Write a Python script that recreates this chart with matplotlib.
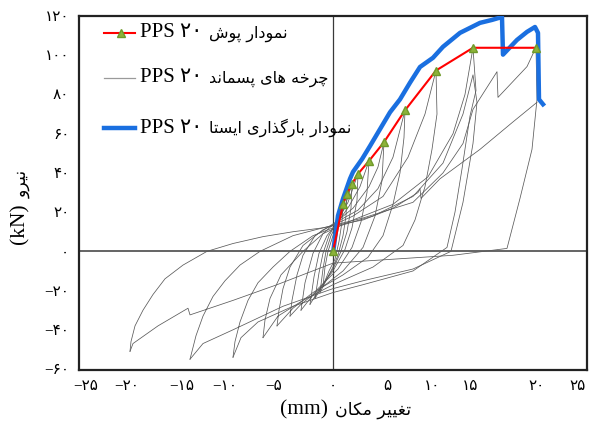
import matplotlib
matplotlib.use("Agg")
import matplotlib.pyplot as plt
from matplotlib.offsetbox import TextArea, HPacker, AnchoredOffsetbox

# push-over envelope (red line, green triangles)
push_x = [0, 1.0, 1.4, 1.9, 2.5, 3.6, 5.1, 7.2, 10.3, 14.0, 20.3]
push_y = [0, 24.3, 29.4, 34.4, 39.5, 46.1, 55.7, 71.9, 92.2, 103.8, 103.8]

# monotonic (static) loading curve, blue
static_x = [0, 0.5, 1.0, 1.7, 2.0, 2.9, 3.7, 4.7, 5.7, 6.7, 7.7, 8.7, 10.0, 11.0,
            12.7, 14.7, 15.9, 16.9, 17.0, 18.4, 19.4, 20.2, 20.5, 20.6, 21.0]
static_y = [-1, 18.2, 26.8, 37, 40.5, 47, 53.7, 62.3, 70.9, 77.5, 86, 94, 98.7, 104.3,
            111.4, 116.5, 118, 119.5, 100.3, 107.8, 111.9, 114.4, 111.4, 77.5, 75]

# hysteresis cycles as (x, y) points
cycle_01 = [(0, 0), (0.3, 12), (0.6, 19), (1.0, 24.3), (0.9, 15), (0.6, 5), (0.2, -4),
            (-0.4, -10), (-0.8, -15), (-1.0, -18)]
cycle_02 = [(-1.0, -18), (-0.8, -8), (-0.5, 0), (0, 8), (0.5, 15), (1.0, 22), (1.4, 29.4),
            (1.3, 18), (1.0, 8), (0.5, -2), (0, -8), (-0.6, -14), (-1.3, -21)]
cycle_03 = [(-1.3, -21), (-1.0, -9), (-0.7, 0), (-0.2, 8), (0.5, 15), (1.2, 23), (1.9, 34.4),
            (1.8, 22), (1.4, 10), (0.8, 0), (0, -9), (-0.9, -16), (-1.8, -24)]
cycle_04 = [(-1.8, -24), (-1.4, -11), (-1.0, -1), (-0.4, 8), (0.5, 16), (1.5, 25), (2.5, 39.5),
            (2.4, 26), (1.9, 12), (1.2, 1), (0, -10), (-1.2, -18), (-2.3, -27)]
cycle_05 = [(-2.3, -27), (-1.9, -13), (-1.4, -1), (-0.6, 8), (0.5, 15), (1.6, 23), (2.7, 33),
            (3.6, 46.1), (3.4, 30), (2.8, 15), (1.9, 2), (0.5, -9), (-1.5, -19), (-3.2, -30)]
cycle_06 = [(-3.2, -30), (-2.8, -16), (-2.0, -1), (-1.0, 9), (0.3, 15), (2.0, 22), (3.6, 33),
            (4.5, 43), (5.1, 55.7), (4.9, 36), (4.2, 18), (3.0, 2), (1.0, -10), (-1.5, -20),
            (-3.2, -27), (-4.3, -33)]
cycle_07 = [(-4.3, -33), (-4.1, -25), (-3.6, -12), (-3.0, -2), (-1.8, 8), (0, 14), (2.5, 21),
            (4.5, 32), (6.0, 48), (7.2, 71.9), (7.1, 58), (6.7, 40), (6.0, 24), (5.0, 8),
            (3.5, -3), (1.0, -12), (-2.0, -21), (-4.0, -29), (-5.6, -38)]
cycle_08 = [(-5.6, -38), (-5.4, -30), (-5.0, -19), (-4.3, -8), (-3.0, 3), (-1.0, 11),
            (2.0, 18), (5.0, 28), (7.5, 48), (9.2, 70), (10.3, 92.2), (10.4, 70), (9.9, 52),
            (9.2, 33), (8.2, 16), (7.0, 3), (4.0, -8), (0, -17), (-3.0, -25), (-5.5, -33),
            (-7.0, -44)]
cycle_09 = [(-7.0, -44), (-6.8, -35), (-6.3, -24), (-5.2, -12), (-3.0, 0), (-1.0, 9),
            (2.0, 16), (6.0, 24), (9.5, 38), (12.0, 60), (13.2, 80), (14.0, 103.8),
            (14.3, 82), (13.7, 69), (12.9, 42), (12.2, 20), (11.4, 2), (8.0, -10), (3.0, -17),
            (0, -21), (-4.0, -28), (-7.5, -36), (-9.2, -44), (-10.0, -54)]
cycle_10 = [(-10.0, -54), (-9.8, -46), (-9.3, -36), (-8.5, -25), (-7.5, -16), (-6.0, -8),
            (-4.3, 0), (-2.0, 8), (0, 12), (4.0, 18), (8.0, 28), (11.0, 45), (13.0, 70),
            (14.0, 90), (14.4, 76), (14.0, 55), (13.0, 25), (11.8, 0), (8.0, -9), (3.0, -15),
            (0, -19), (-5.0, -28), (-10.0, -40), (-13.0, -47), (-14.3, -55)]
cycle_11 = [(-14.3, -55), (-14.1, -51), (-13.7, -43), (-13.0, -33), (-12.0, -23),
            (-10.8, -15), (-9.3, -7), (-7.3, 0), (-4.0, 8), (-1.0, 12), (3.0, 17), (8.0, 25),
            (11.0, 40), (13.0, 55), (14.0, 72.4), (16.4, 91.6), (16.5, 78.5), (19.4, 94.2),
            (20.3, 104), (20.4, 77.5), (19.9, 52), (18.7, 27), (17.4, 1.5), (12.0, -2),
            (6.0, -4), (0, -6), (-5.6, -17), (-10.0, -25), (-14.3, -32.4), (-14.5, -29),
            (-17.5, -38), (-20.0, -47), (-20.3, -51)]
cycle_12 = [(-20.3, -51), (-20.2, -46), (-19.8, -38), (-19.0, -30), (-18.0, -22),
            (-16.8, -14), (-15.0, -7), (-12.6, 0), (-10.0, 4), (-7.0, 7.5), (-4.0, 10),
            (-1.0, 12), (3.0, 16), (6.0, 22), (8.5, 30), (8.7, 32), (8.8, 27), (10.7, 37),
            (14.7, 52), (18.0, 66), (20.4, 76)]
cycles = [cycle_01, cycle_02, cycle_03, cycle_04, cycle_05, cycle_06,
          cycle_07, cycle_08, cycle_09, cycle_10, cycle_11, cycle_12]

# text
legend_labels = ["نمودار پوش", "چرخه های پسماند", "نمودار بارگذاری ایستا"]
legend_suffix = "PPS ۲۰"
xlabel_fa = "تغییر مکان"
ylabel_fa = "نیرو"
x_ticks = [-25, -20, -15, -10, -5, 0, 5, 10, 15, 20, 25]
y_ticks = [-60, -40, -20, 0, 20, 40, 60, 80, 100, 120]

# Arabic/Persian letter forms: isolated, final, initial, medial
FORMS = {
    "ا": ("\ufe8d", "\ufe8e"),
    "ب": ("\ufe8f", "\ufe90", "\ufe91", "\ufe92"),
    "پ": ("\ufb56", "\ufb57", "\ufb58", "\ufb59"),
    "ت": ("\ufe95", "\ufe96", "\ufe97", "\ufe98"),
    "چ": ("\ufb7a", "\ufb7b", "\ufb7c", "\ufb7d"),
    "خ": ("\ufea5", "\ufea6", "\ufea7", "\ufea8"),
    "د": ("\ufea9", "\ufeaa"),
    "ذ": ("\ufeab", "\ufeac"),
    "ر": ("\ufead", "\ufeae"),
    "س": ("\ufeb1", "\ufeb2", "\ufeb3", "\ufeb4"),
    "ش": ("\ufeb5", "\ufeb6", "\ufeb7", "\ufeb8"),
    "غ": ("\ufecd", "\ufece", "\ufecf", "\ufed0"),
    "ک": ("\ufb8e", "\ufb8f", "\ufb90", "\ufb91"),
    "گ": ("\ufb92", "\ufb93", "\ufb94", "\ufb95"),
    "م": ("\ufee1", "\ufee2", "\ufee3", "\ufee4"),
    "ن": ("\ufee5", "\ufee6", "\ufee7", "\ufee8"),
    "ه": ("\ufee9", "\ufeea", "\ufeeb", "\ufeec"),
    "و": ("\ufeed", "\ufeee"),
    "ی": ("\ufbfc", "\ufbfd", "\ufbfe", "\ufbff"),
}


def shape_word(word):
    out = []
    for i, ch in enumerate(word):
        f = FORMS[ch]
        prev_joins = i > 0 and len(FORMS[word[i - 1]]) == 4
        next_joins = len(f) == 4 and i < len(word) - 1
        if prev_joins and next_joins:
            out.append(f[3])
        elif prev_joins:
            out.append(f[1])
        elif next_joins:
            out.append(f[2])
        else:
            out.append(f[0])
    return "".join(reversed(out))


def fa(text):
    # visual order for a right-to-left phrase
    return " ".join(shape_word(w) for w in reversed(text.split()))


def fa_num(v):
    s = str(abs(v)).translate(str.maketrans("0123456789", "۰۱۲۳۴۵۶۷۸۹"))
    return ("−" + s) if v < 0 else s


def mixed(latin, persian, size_l, size_p, sep=5):
    return HPacker(children=[TextArea(latin, textprops=dict(fontsize=size_l, family=FAM)),
                             TextArea(fa(persian), textprops=dict(fontsize=size_p, family="DejaVu Sans"))],
                   align="baseline", pad=0, sep=sep)


FAM = ["Liberation Serif", "DejaVu Sans"]
plt.rcParams["font.family"] = FAM

fig = plt.figure(figsize=(5.9, 4.29), dpi=100)
ax = fig.add_axes([0.1339, 0.1375, 0.8610, 0.8252])

ax.axhline(0, color="#3a3a3a", lw=1.1, zorder=1)
ax.axvline(0, color="#3a3a3a", lw=0.9, zorder=1)

for c in cycles:
    ax.plot([p[0] for p in c], [p[1] for p in c], color="#5a5a5a", lw=0.55, zorder=2)

ax.plot(static_x, static_y, color="#1a6fe0", lw=3.2, solid_joinstyle="round", zorder=3)
ax.plot(push_x, push_y, color="#ff0000", lw=1.5, marker="^", ms=6,
        mfc="#8db33a", mec="#6f9a2a", zorder=4)

ax.set_xlim(-25.4, 25.4)
ax.set_ylim(-60.5, 120)

# tick labels sit where they are in the picture (not evenly spaced)
xtick_pos = [-24.7, -20.6, -15.1, -10.8, -5.9, 0, 5.4, 9.9, 13.7, 20.4, 24.5]
ax.set_xticks(xtick_pos)
ax.set_xticklabels([fa_num(v) for v in x_ticks], fontsize=11)
ax.set_yticks(y_ticks)
ax.set_yticklabels([fa_num(v) for v in y_ticks], fontsize=11)
ax.tick_params(length=0, pad=7)

for s in ax.spines.values():
    s.set_linewidth(1.6)
    s.set_color("#222222")

# axis titles
xl = AnchoredOffsetbox(loc="center", child=mixed("(mm)", xlabel_fa, 15.5, 12.5),
                       pad=0, borderpad=0, frameon=False,
                       bbox_to_anchor=(346 / 590, 1 - 410 / 429), bbox_transform=fig.transFigure)
fig.add_artist(xl)
fig.text(20 / 590, 1 - 224 / 429, "(kN)", rotation=90, fontsize=15.5, ha="center", va="center")
fig.text(22 / 590, 1 - 184 / 429, fa(ylabel_fa), rotation=90, fontsize=12.5,
         family="DejaVu Sans", ha="center", va="center")

# legend drawn by hand to keep the uneven spacing of the original
handle_styles = [
    dict(color="#ff0000", lw=1.5, marker="^", ms=6, mfc="#8db33a", mec="#6f9a2a", markevery=[1]),
    dict(color="#9a9a9a", lw=0.9),
    dict(color="#1a6fe0", lw=3.2),
]
rows_y = [0.952, 0.825, 0.684]
for lab, st, yy in zip(legend_labels, handle_styles, rows_y):
    ax.plot([0.05, 0.082, 0.11], [yy, yy, yy], transform=ax.transAxes, clip_on=False, **st)
    lg = AnchoredOffsetbox(loc="center left", child=mixed(legend_suffix, lab, 15, 11.5),
                           pad=0, borderpad=0, frameon=False,
                           bbox_to_anchor=(0.12, yy), bbox_transform=ax.transAxes)
    ax.add_artist(lg)

fig.savefig("out.png", dpi=100)
